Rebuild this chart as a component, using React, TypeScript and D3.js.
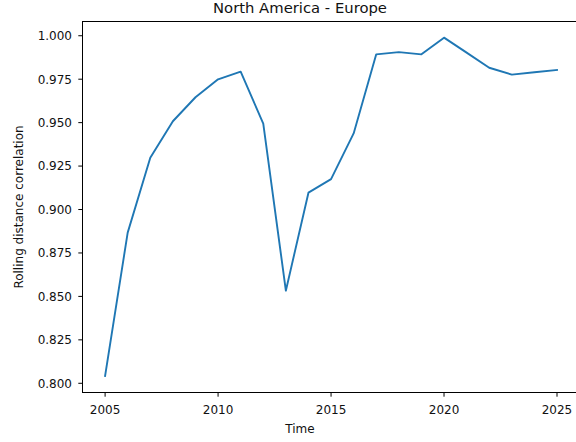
import React from "react";
import * as d3 from "d3";

const years = [2005, 2006, 2007, 2008, 2009, 2010, 2011, 2012, 2013, 2014, 2015, 2016, 2017, 2018, 2019, 2020, 2021, 2022, 2023, 2024, 2025];
const values = [0.8042, 0.8867, 0.9298, 0.9508, 0.9646, 0.9749, 0.9793, 0.9494, 0.8533, 0.9097, 0.9175, 0.9438, 0.9893, 0.9906, 0.9893, 0.9989, 0.9903, 0.9816, 0.9776, 0.979, 0.9803];
const xTicks = [2005, 2010, 2015, 2020, 2025];
const yTicks = [0.8, 0.825, 0.85, 0.875, 0.9, 0.925, 0.95, 0.975, 1.0];
const title = "North America - Europe";
const xLabel = "Time";
const yLabel = "Rolling distance correlation";

export default function App() {
  const W = 576, H = 442;
  const left = 82.5, right = 579.6, top = 21.5, bottom = 392.5;
  const x = d3.scaleLinear().domain([2004, 2026]).range([left, right]);
  const y = d3.scaleLinear().domain([0.7947, 1.0082]).range([bottom, top]);
  const line = d3.line<number>().x((_, i) => x(years[i])).y((d) => y(d));
  const font = "'DejaVu Sans', sans-serif";
  return (
    <svg width={W} height={H} style={{ position: "absolute", left: 0, top: 0, background: "#fff" }} fontFamily={font}>
      <rect x={0} y={0} width={W} height={H} fill="#fff" />
      <path d={line(values) || ""} fill="none" stroke="#1f77b4" strokeWidth={1.9} strokeLinejoin="round" strokeLinecap="square" />
      <rect x={left} y={top} width={right - left} height={bottom - top} fill="none" stroke="#000" strokeWidth={1} />
      {xTicks.map((t) => (
        <g key={t}>
          <line x1={x(t)} x2={x(t)} y1={bottom} y2={bottom + 4.2} stroke="#000" strokeWidth={1} />
          <text x={x(t)} y={414.3} textAnchor="middle" fontSize={12} fill="#111">{t}</text>
        </g>
      ))}
      {yTicks.map((t) => (
        <g key={t}>
          <line x1={left - 4.2} x2={left} y1={y(t)} y2={y(t)} stroke="#000" strokeWidth={1} />
          <text x={72} y={y(t) + 4.4} textAnchor="end" fontSize={12} fill="#111">{t.toFixed(3)}</text>
        </g>
      ))}
      <text x={300} y={12.5} textAnchor="middle" fontSize={14.8} fill="#111">{title}</text>
      <text x={300} y={432.5} textAnchor="middle" fontSize={12} fill="#111">{xLabel}</text>
      <text transform={`translate(23,${(top + bottom) / 2}) rotate(-90)`} textAnchor="middle" fontSize={12} fill="#111">{yLabel}</text>
    </svg>
  );
}
